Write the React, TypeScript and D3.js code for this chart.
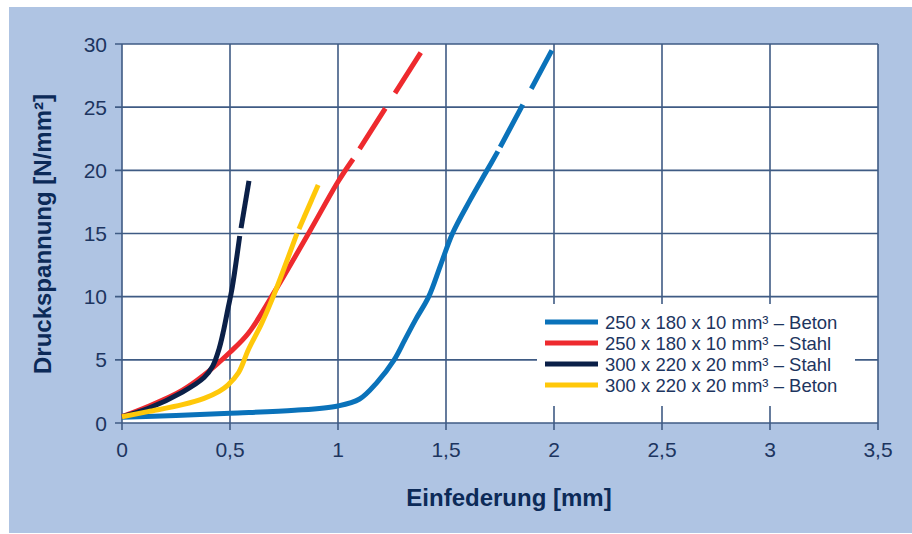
import React from 'react';
import * as d3 from 'd3';

type Pt = [number, number];

const xTicks = [0, 0.5, 1, 1.5, 2, 2.5, 3, 3.5];
const yTicks = [0, 5, 10, 15, 20, 25, 30];

const legendLabels = [
  '250 x 180 x 10 mm³ – Beton',
  '250 x 180 x 10 mm³ – Stahl',
  '300 x 220 x 20 mm³ – Stahl',
  '300 x 220 x 20 mm³ – Beton',
];

const blueMeasured: Pt[] = [
  [0, 0.45], [0.25, 0.6], [0.5, 0.77], [0.8, 1.0], [1.0, 1.35], [1.1, 1.9],
  [1.18, 3.2], [1.26, 5], [1.31, 6.6], [1.36, 8.2], [1.42, 10], [1.475, 12.5],
  [1.53, 15], [1.61, 17.6], [1.69, 20], [1.74, 21.5],
];
const blueExtra: Pt[] = [[1.74, 21.5], [1.99, 29.5]];

const redMeasured: Pt[] = [
  [0, 0.5], [0.12, 1.3], [0.28, 2.6], [0.38, 3.8], [0.5, 5.6], [0.585, 7.1],
  [0.71, 10.5], [0.87, 15.2], [1.0, 19.1], [1.07, 20.9],
];
const redExtra: Pt[] = [[1.07, 20.9], [1.39, 29.5]];

const navyMeasured: Pt[] = [
  [0, 0.5], [0.12, 1.15], [0.28, 2.45], [0.38, 3.6], [0.42, 4.5], [0.45, 5.9],
  [0.47, 7.3], [0.49, 9.0], [0.51, 10.7], [0.545, 14.8],
];
const navyExtra: Pt[] = [[0.545, 14.8], [0.593, 19.7]];

const yellowMeasured: Pt[] = [
  [0, 0.5], [0.12, 0.9], [0.28, 1.45], [0.38, 1.95], [0.45, 2.5], [0.49, 3.0],
  [0.54, 4.0], [0.585, 5.8], [0.647, 7.9], [0.7, 10.0], [0.81, 15.0],
];
const yellowExtra: Pt[] = [[0.81, 15.0], [0.93, 19.7]];

const series = [
  { solid: blueMeasured, dashed: blueExtra, color: '#0a72ba', gap: 5 },
  { solid: redMeasured, dashed: redExtra, color: '#ee2a2e', gap: 12 },
  { solid: navyMeasured, dashed: navyExtra, color: '#0b2048', gap: 8 },
  { solid: yellowMeasured, dashed: yellowExtra, color: '#ffc80a', gap: 5 },
];

const W = 912;
const H = 534;
const gridColor = '#3f5b84';
const textColor = '#1d3560';
const titleColor = '#0c2a58';
const font = '"Liberation Sans", Arial, sans-serif';

const App = () => {
  const x = d3.scaleLinear().domain([0, 3.5]).range([122, 878]);
  const y = d3.scaleLinear().domain([0, 30]).range([423, 44]);

  const line = d3.line<Pt>()
    .x(d => x(d[0]))
    .y(d => y(d[1]))
    .curve(d3.curveCatmullRom.alpha(0.5));

  const fmt = (v: number) => String(v).replace('.', ',');
  const dash = 48, gapLen = 18;

  const legX = 537, legY = 304;

  return (
    <svg width={W} height={H} style={{ position: 'absolute', left: 0, top: 0 }}>
      <rect x={9} y={7} width={W - 9} height={H - 8} fill="#afc4e3" />
      <rect x={x(0)} y={y(30)} width={x(3.5) - x(0)} height={y(0) - y(30)} fill="#fff" />

      {/* grid */}
      {xTicks.map(t => (
        <line key={'gx' + t} x1={x(t)} x2={x(t)} y1={y(30)} y2={y(0) + 7}
          stroke={gridColor} strokeWidth={1.6} />
      ))}
      {yTicks.map(t => (
        <line key={'gy' + t} x1={x(0) - 7} x2={x(3.5)} y1={y(t)} y2={y(t)}
          stroke={gridColor} strokeWidth={1.6} />
      ))}

      {/* legend box covers the grid */}
      <rect x={legX} y={legY} width={318} height={102} fill="#fff" />

      {/* tick labels */}
      {xTicks.map(t => (
        <text key={'lx' + t} x={x(t)} y={457} textAnchor="middle"
          fontFamily={font} fontSize={21} fill={textColor}>{fmt(t)}</text>
      ))}
      {yTicks.map(t => (
        <text key={'ly' + t} x={107} y={y(t)} dy="0.36em" textAnchor="end"
          fontFamily={font} fontSize={21} fill={textColor}>{t}</text>
      ))}

      {/* axis titles */}
      <text x={509} y={506} textAnchor="middle" fontFamily={font} fontWeight="bold"
        fontSize={24} fill={titleColor}>Einfederung [mm]</text>
      <text transform={`translate(51,234) rotate(-90)`} textAnchor="middle" fontFamily={font}
        fontWeight="bold" fontSize={24} fill={titleColor}>Druckspannung [N/mm²]</text>

      {/* curves */}
      {series.map((s, i) => (
        <g key={'s' + i}>
          <path d={line(s.solid) || ''} fill="none" stroke={s.color} strokeWidth={5} />
          <path d={line(s.dashed) || ''} fill="none" stroke={s.color} strokeWidth={5}
            strokeDasharray={`${dash} ${gapLen}`} strokeDashoffset={dash + gapLen - s.gap} />
        </g>
      ))}

      {/* legend entries */}
      {series.map((s, i) => (
        <g key={'lg' + i}>
          <line x1={545} x2={598} y1={legY + 18 + i * 21} y2={legY + 18 + i * 21}
            stroke={s.color} strokeWidth={5} />
          <text x={605} y={legY + 18 + i * 21} dy="0.36em" fontFamily={font} fontSize={18.5}
            fill={textColor}>{legendLabels[i]}</text>
        </g>
      ))}
    </svg>
  );
};

export default App;
